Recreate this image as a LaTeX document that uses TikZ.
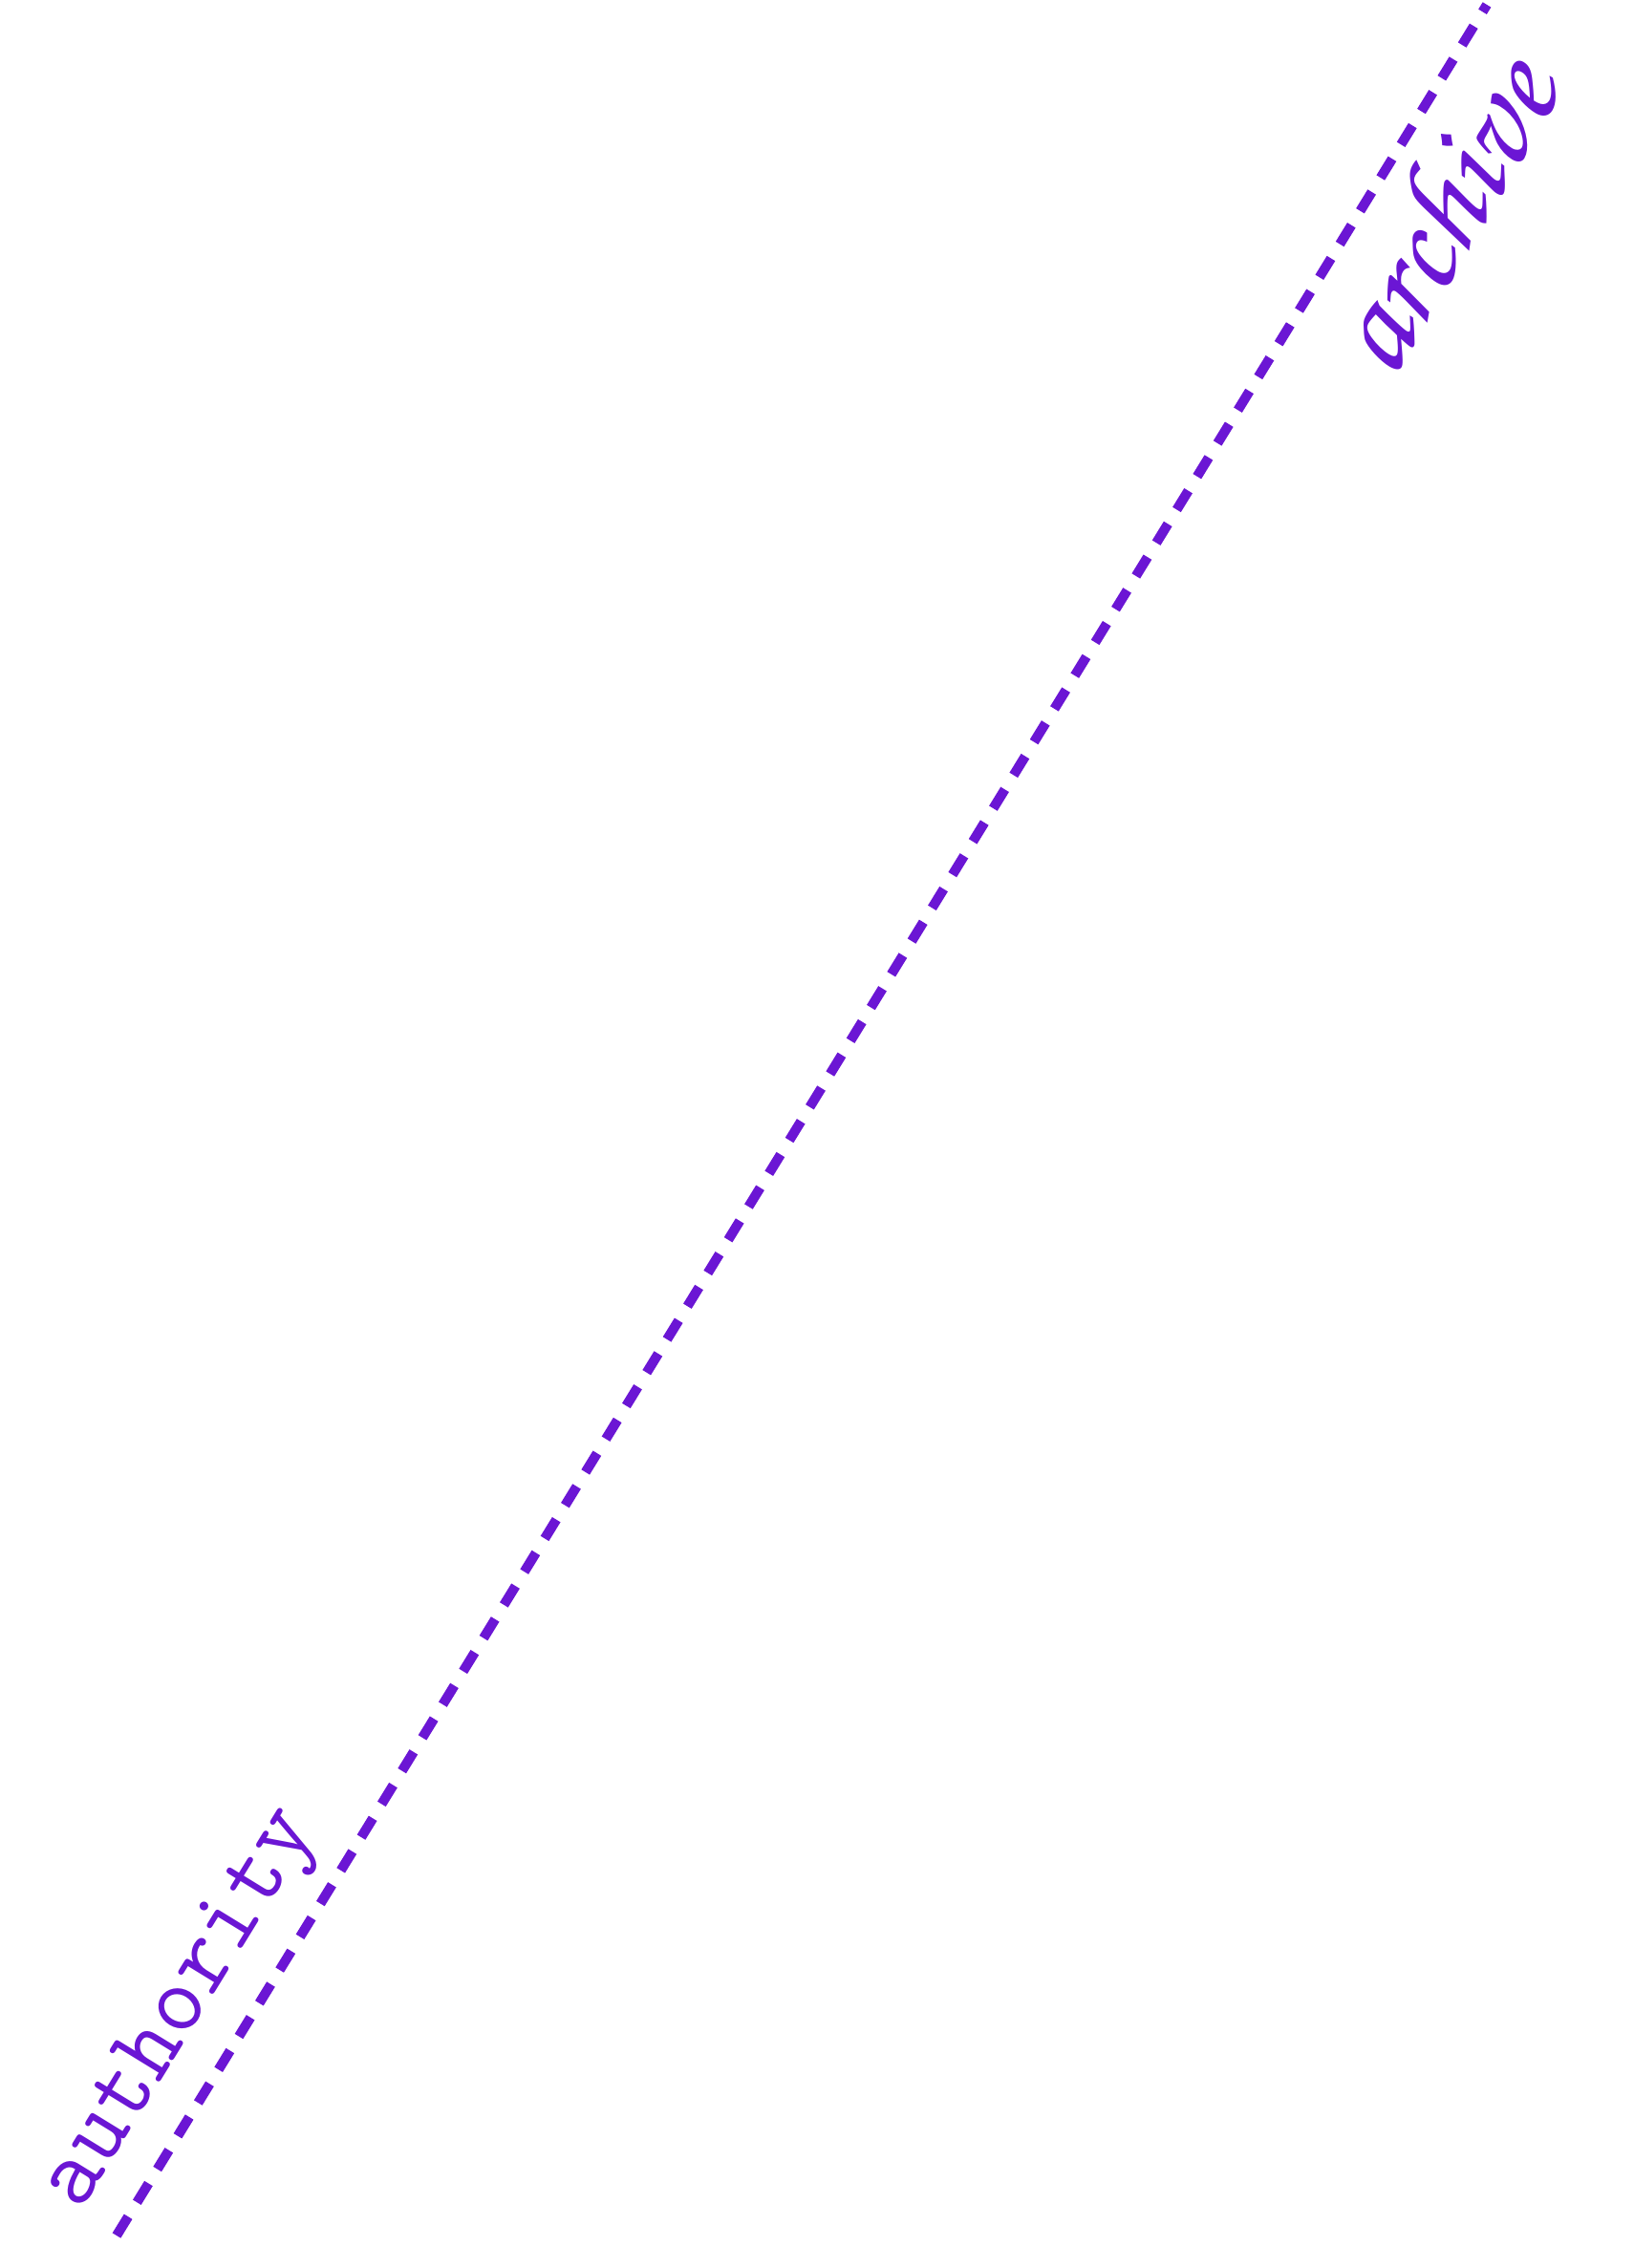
\documentclass[tikz,border=0pt]{standalone}
\usepackage{fontspec}
\usepackage{xcolor}
\usetikzlibrary{positioning,calc}
\definecolor{linkviolet}{HTML}{6B16D4}

\begin{document}
\begin{tikzpicture}[
    linkline/.style={draw=linkviolet, line width=2.9pt, dash pattern=on 6.6pt off 5pt},
    monolabel/.style={text=linkviolet, rotate=58.45, font=\ttfamily\fontsize{29}{32}\selectfont},
    scriptlabel/.style={text=linkviolet, rotate=59.5, font=\usefont{T1}{pzc}{m}{it}\fontsize{40}{44}\selectfont}
]
    \useasboundingbox (0,0) rectangle (17.1,23.74);
    \coordinate (lo) at (1.22,0.34); \coordinate (hi) at (15.56,23.69);
    \draw[linkline] (lo) -- (hi);
    \node[monolabel] (auth) at (1.91,2.70) {authority};
    \node[scriptlabel] (arch) at (15.04,21.52) {archive};
\end{tikzpicture}
\end{document}
